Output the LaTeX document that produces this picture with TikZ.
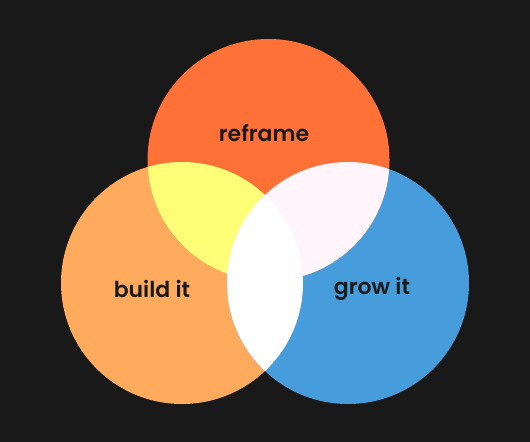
\documentclass[tikz,border=0pt]{standalone}
\usepackage{fontspec}
\setmainfont{Poppins}[BoldFont={Poppins SemiBold}]
\usetikzlibrary{positioning}

\definecolor{bgdark}{HTML}{191919}
\definecolor{reframec}{HTML}{FF7137}
\definecolor{buildc}{HTML}{FFAA5C}
\definecolor{growc}{HTML}{479DDB}
\definecolor{yellowc}{HTML}{FFFF77}
\definecolor{pinkc}{HTML}{FFF5FA}
\definecolor{labelc}{HTML}{1A1A1A}

\tikzset{
  setlabel/.style={text=labelc,font=\fontsize{12.5}{14}\selectfont\bfseries}
}

\begin{document}
\begin{tikzpicture}[x=0.02cm,y=-0.02cm]

% background
\fill[bgdark] (0,0) rectangle (530,442);
\useasboundingbox (0,0) rectangle (530,442);

% centres
\def\rad{121}
\coordinate (top) at (268.5,160);
\coordinate (left) at (182,283);
\coordinate (right) at (348,283);

% circles
\fill[buildc] (left) circle (\rad);
\fill[growc] (right) circle (\rad);
\fill[reframec] (top) circle (\rad);

% overlaps
\begin{scope}
\clip (top) circle (\rad);
\fill[yellowc] (left) circle (\rad);
\fill[pinkc] (right) circle (\rad);
\end{scope}
\begin{scope}
\clip (left) circle (\rad);
\fill[white] (right) circle (\rad);
\end{scope}

% labels
\node[setlabel] (reframe) at (264,133) {reframe};
\node[setlabel] (build) at (152,289) {build it};
\node[setlabel] (grow) at (372,289) {grow it};

\end{tikzpicture}
\end{document}
